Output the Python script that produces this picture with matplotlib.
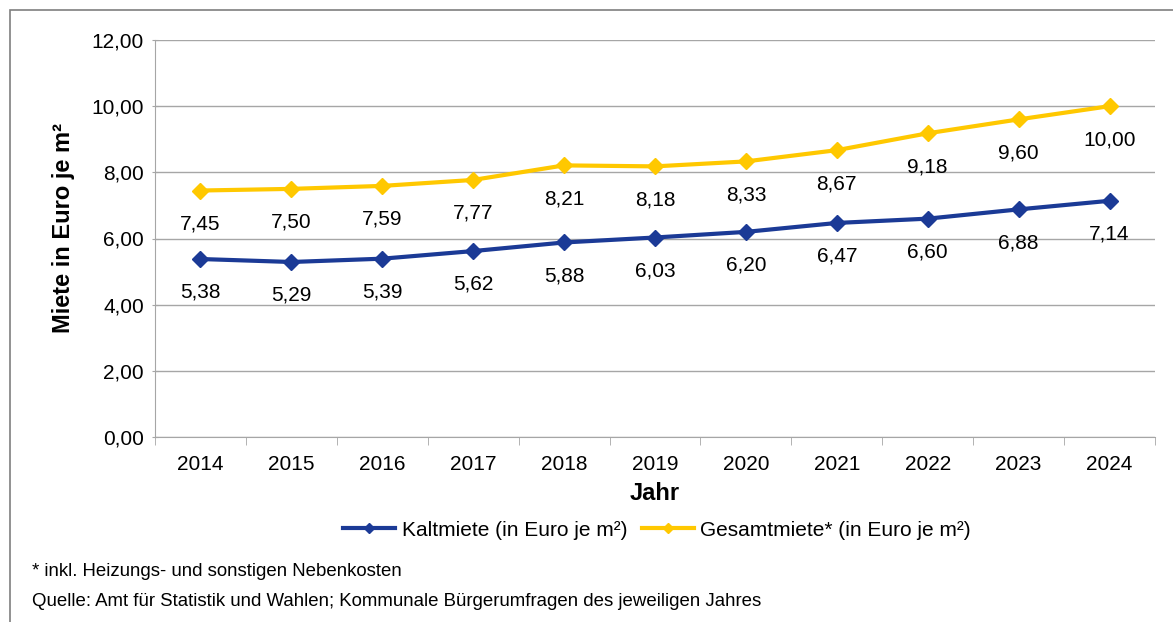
import numpy as np
import matplotlib.pyplot as plt
from matplotlib.patches import Rectangle

plt.rcParams['font.family'] = ['Liberation Sans', 'DejaVu Sans']

jahre = ['2014', '2015', '2016', '2017', '2018', '2019', '2020', '2021', '2022', '2023', '2024']
kaltmiete = [5.38, 5.29, 5.39, 5.62, 5.88, 6.03, 6.20, 6.47, 6.60, 6.88, 7.14]
gesamtmiete = [7.45, 7.50, 7.59, 7.77, 8.21, 8.18, 8.33, 8.67, 9.18, 9.60, 10.00]
y_ticks = [0, 2, 4, 6, 8, 10, 12]

blau = '#1B3A96'
gelb = '#FFC800'
grau = '#A6A6A6'

W, H = 1173, 622
fig = plt.figure(figsize=(W / 100, H / 100), dpi=100)

# Rahmen um die Grafik (rechts und unten abgeschnitten)
fig.patches.append(Rectangle((10 / W, -0.05), 1.05, 1 - 10 / H + 0.05,
                             transform=fig.transFigure, fill=False,
                             edgecolor='#7F7F7F', linewidth=1.2))

ax = fig.add_axes([155 / W, (H - 437) / H, 1000 / W, 397 / H])
x = np.arange(len(jahre))

ax.plot(x, kaltmiete, color=blau, linewidth=3, marker='D', markersize=8,
        label='Kaltmiete (in Euro je m²)')
ax.plot(x, gesamtmiete, color=gelb, linewidth=3, marker='D', markersize=8,
        label='Gesamtmiete* (in Euro je m²)')

def fmt(v):
    return f'{v:.2f}'.replace('.', ',')

for reihe in (kaltmiete, gesamtmiete):
    for xi, v in zip(x, reihe):
        ax.annotate(fmt(v), (xi, v), xytext=(0, -24), textcoords='offset points',
                    ha='center', va='center', fontsize=15)

ax.set_xlim(-0.5, len(jahre) - 0.5)
ax.set_ylim(0, 12)
ax.set_yticks(y_ticks)
ax.set_yticklabels([fmt(t) for t in y_ticks], fontsize=15)
ax.set_xticks(x)
ax.set_xticklabels(jahre, fontsize=15)
ax.set_xticks(np.arange(-0.5, len(jahre), 1), minor=True)
ax.tick_params(axis='x', which='major', length=0, pad=13)
ax.tick_params(axis='x', which='minor', length=6, color=grau)
ax.tick_params(axis='y', length=4, direction='inout', color=grau, pad=6)
ax.grid(axis='y', color=grau, linewidth=1)
ax.set_axisbelow(True)
for s in ['top', 'right']:
    ax.spines[s].set_visible(False)
for s in ['left', 'bottom']:
    ax.spines[s].set_color(grau)

ax.set_xlabel('Jahr', fontsize=17, fontweight='bold', labelpad=6)
ax.set_ylabel('Miete in Euro je m²', fontsize=17, fontweight='bold')
ax.yaxis.set_label_coords(-0.08, 0.526)

fig.legend(loc='center', bbox_to_anchor=(657 / W, 1 - 530 / H), ncol=2,
           frameon=False, fontsize=15, handlelength=2.5, handletextpad=0.3,
           columnspacing=0.7, markerscale=0.6)

fig.text(32 / W, 1 - 571 / H, '* inkl. Heizungs- und sonstigen Nebenkosten',
         fontsize=13.4, va='center')
fig.text(32 / W, 1 - 601 / H,
         'Quelle: Amt für Statistik und Wahlen; Kommunale Bürgerumfragen des jeweiligen Jahres',
         fontsize=13.4, va='center')

fig.savefig('out.png', dpi=100)
